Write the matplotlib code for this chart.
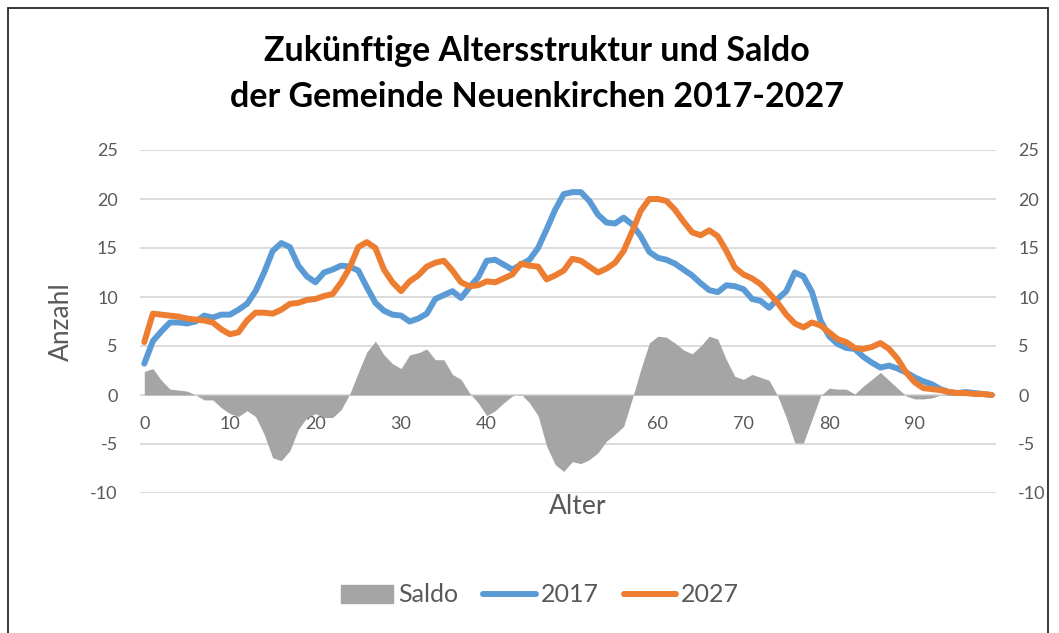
import matplotlib
matplotlib.use("Agg")
import matplotlib.pyplot as plt
import matplotlib.patches as mpatches
from matplotlib.lines import Line2D

# Alter 0..99
alter = list(range(100))

werte_2017 = [
    3.2, 5.5, 6.5, 7.4, 7.4, 7.3, 7.5, 8.1, 7.9, 8.2,
    8.2, 8.7, 9.3, 10.6, 12.5, 14.7, 15.5, 15.1, 13.2, 12.1,
    11.5, 12.5, 12.8, 13.2, 13.1, 12.7, 11.0, 9.4, 8.6, 8.2,
    8.1, 7.5, 7.8, 8.3, 9.8, 10.2, 10.6, 9.9, 11.0, 12.0,
    13.7, 13.8, 13.3, 12.8, 13.3, 13.8, 15.0, 16.9, 18.9, 20.5,
    20.7, 20.7, 19.8, 18.4, 17.6, 17.5, 18.1, 17.4, 16.2, 14.6,
    14.0, 13.8, 13.4, 12.8, 12.2, 11.4, 10.7, 10.5, 11.2, 11.1,
    10.8, 9.8, 9.6, 8.9, 9.8, 10.6, 12.5, 12.1, 10.5, 7.6,
    6.0, 5.2, 4.8, 4.7, 3.9, 3.3, 2.8, 3.0, 2.7, 2.3,
    1.8, 1.4, 1.1, 0.6, 0.3, 0.2, 0.3, 0.2, 0.1, 0.0,
]

werte_2027 = [
    5.4, 8.3, 8.2, 8.1, 8.0, 7.8, 7.7, 7.6, 7.4, 6.7,
    6.2, 6.4, 7.6, 8.4, 8.4, 8.3, 8.7, 9.3, 9.4, 9.7,
    9.8, 10.1, 10.3, 11.5, 13.0, 15.1, 15.6, 15.0, 12.8, 11.5,
    10.6, 11.6, 12.2, 13.1, 13.5, 13.7, 12.7, 11.5, 11.1, 11.2,
    11.6, 11.5, 11.9, 12.3, 13.4, 13.2, 13.1, 11.8, 12.2, 12.7,
    13.9, 13.7, 13.1, 12.5, 12.9, 13.5, 14.7, 16.7, 18.8, 20.0,
    20.0, 19.8, 18.9, 17.7, 16.6, 16.3, 16.8, 16.2, 14.7, 13.0,
    12.3, 11.9, 11.3, 10.4, 9.4, 8.2, 7.3, 6.9, 7.4, 7.1,
    6.4, 5.7, 5.4, 4.8, 4.7, 4.9, 5.3, 4.7, 3.7, 2.3,
    1.3, 0.7, 0.6, 0.5, 0.3, 0.2, 0.2, 0.1, 0.1, 0.0,
]

saldo = [
    2.4, 2.7, 1.5, 0.6, 0.5, 0.4, 0.0, -0.5, -0.5, -1.3,
    -1.9, -2.2, -1.6, -2.2, -4.0, -6.4, -6.7, -5.7, -3.5, -2.3,
    -1.9, -2.3, -2.3, -1.5, 0.1, 2.3, 4.4, 5.5, 4.1, 3.2,
    2.7, 4.1, 4.3, 4.7, 3.6, 3.6, 2.1, 1.6, 0.2, -0.8,
    -2.1, -1.6, -0.8, -0.1, 0.1, -0.8, -2.1, -5.2, -7.1, -7.8,
    -6.8, -7.0, -6.6, -5.9, -4.7, -4.0, -3.2, -0.4, 2.6, 5.3,
    6.0, 5.9, 5.3, 4.6, 4.2, 5.0, 6.0, 5.7, 3.6, 1.9,
    1.6, 2.1, 1.8, 1.5, -0.1, -2.3, -4.9, -4.9, -2.5, -0.1,
    0.7, 0.6, 0.6, 0.1, 0.9, 1.6, 2.3, 1.5, 0.7, -0.1,
    -0.4, -0.4, -0.3, 0.0, 0.1, 0.0, 0.0, 0.0, 0.0, 0.0,
]

x_ticks = [0, 10, 20, 30, 40, 50, 60, 70, 80, 90]
y_ticks = [-10, -5, 0, 5, 10, 15, 20, 25]

BLAU = "#5B9BD5"
ORANGE = "#ED7D31"
GRAU = "#A5A5A5"
TEXT = "#595959"
GITTER = "#D9D9D9"

plt.rcParams["font.family"] = ["Lato", "DejaVu Sans"]
plt.rcParams["axes.unicode_minus"] = False

W, H = 1059, 633
fig = plt.figure(figsize=(W / 100, H / 100), dpi=100)

# Rahmen um das Diagramm
fig.patches.append(mpatches.Rectangle((8 / W, -0.1), (1048 - 8) / W, 1.1 - 8 / H,
                                      transform=fig.transFigure, fill=False,
                                      edgecolor="#262626", linewidth=1.3))

ax = fig.add_axes([140 / W, 1 - 493 / H, 856 / W, 343 / H])
ax.set_xlim(-0.5, 99.5)
ax.set_ylim(-10, 25)

ax.fill_between(alter, 0, saldo, color=GRAU, linewidth=0, zorder=2)
ax.plot(alter, werte_2017, color=BLAU, lw=4.3, zorder=3,
        solid_joinstyle="round", solid_capstyle="round")
ax.plot(alter, werte_2027, color=ORANGE, lw=4.3, zorder=4,
        solid_joinstyle="round", solid_capstyle="round")

for s in ax.spines.values():
    s.set_visible(False)
ax.spines["bottom"].set_position(("data", 0))

ax.set_yticks(y_ticks)
ax.yaxis.grid(True, color=GITTER, linewidth=1.3, zorder=0)
ax.set_axisbelow(True)
ax.tick_params(axis="y", length=0, pad=16, labelsize=13, labelcolor=TEXT)
ax.set_xticks(x_ticks)
ax.tick_params(axis="x", length=0, pad=15, labelsize=13, labelcolor=TEXT)

ax2 = ax.twinx()
ax2.set_ylim(-10, 25)
ax2.set_yticks(y_ticks)
for s in ax2.spines.values():
    s.set_visible(False)
ax2.tick_params(axis="y", length=0, pad=16, labelsize=13, labelcolor=TEXT)

fig.text(61 / W, 1 - 321.5 / H, "Anzahl", rotation=90, ha="center", va="center",
         fontsize=19, color=TEXT)
fig.text(577.5 / W, 1 - 506 / H, "Alter", ha="center", va="center",
         fontsize=19, color=TEXT)

fig.text(537 / W, 1 - 61 / H, "Zukünftige Altersstruktur und Saldo",
         ha="center", va="baseline", fontsize=24.5, fontweight="bold", color="black")
fig.text(537 / W, 1 - 107 / H, "der Gemeinde Neuenkirchen 2017-2027",
         ha="center", va="baseline", fontsize=24.5, fontweight="bold", color="black")

handles = [
    mpatches.Patch(color=GRAU, label="Saldo"),
    Line2D([], [], color=BLAU, lw=4.3, solid_capstyle="round", label="2017"),
    Line2D([], [], color=ORANGE, lw=4.3, solid_capstyle="round", label="2027"),
]
fig.legend(handles=handles, loc="center", bbox_to_anchor=(540 / W, 1 - 595 / H),
           ncol=3, frameon=False, fontsize=18, labelcolor=TEXT,
           handlelength=2.1, handletextpad=0.2, columnspacing=1.0, handleheight=0.7)

fig.savefig("out.png", dpi=100)
